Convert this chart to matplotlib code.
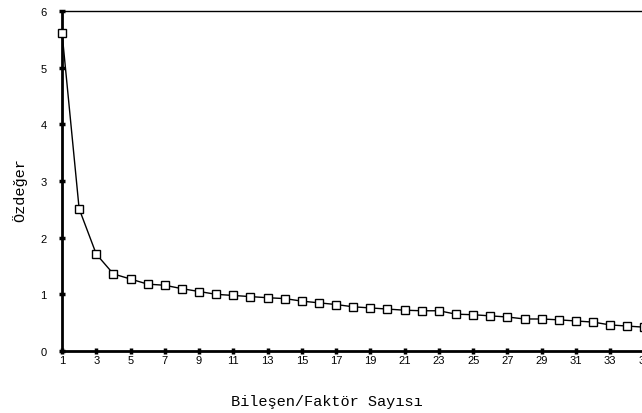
import matplotlib
matplotlib.use("Agg")
import matplotlib.pyplot as plt

components = list(range(1, 36))
eigenvalues = [5.62, 2.51, 1.71, 1.36, 1.27, 1.18, 1.16, 1.10, 1.05, 1.00,
               0.98, 0.96, 0.94, 0.925, 0.88, 0.85, 0.82, 0.78, 0.76, 0.74,
               0.72, 0.71, 0.71, 0.65, 0.64, 0.62, 0.60, 0.565, 0.565, 0.55,
               0.53, 0.51, 0.46, 0.44, 0.42]
xticks = list(range(1, 36, 2))
yticks = [0, 1, 2, 3, 4, 5, 6]
xlabel = "Bileşen/Faktör Sayısı"
ylabel = "Özdeğer"

W, H = 642, 414
fig = plt.figure(figsize=(W / 100, H / 100), dpi=100)
left_px, right_px, top_px, bot_px = 62, 661.6, 12, 352
ax = fig.add_axes([left_px / W, (H - bot_px) / H, (right_px - left_px) / W, (bot_px - top_px) / H])

ax.plot(components, eigenvalues, color="black", linewidth=1.0, marker="s",
        markersize=5.6, markerfacecolor="white", markeredgecolor="black",
        markeredgewidth=1.0, clip_on=False, zorder=3)

ax.set_xlim(1, 36)
ax.set_ylim(0, 6)
ax.set_xticks(xticks)
ax.set_yticks(yticks)
ax.set_xticklabels([str(t) for t in xticks], fontfamily="Liberation Sans", fontsize=8)
ax.set_yticklabels([str(t) for t in yticks], fontfamily="Liberation Sans", fontsize=8)
ax.tick_params(axis="both", direction="inout", length=4, width=2.5, color="black")
ax.tick_params(axis="x", pad=1)
ax.tick_params(axis="y", pad=9)

for s in ["left", "bottom"]:
    ax.spines[s].set_linewidth(2)
ax.spines["top"].set_linewidth(1)
ax.spines["right"].set_linewidth(1)

fig.text(327 / W, 1 - 402 / H, xlabel, family="Liberation Mono", fontsize=11,
         ha="center", va="center")
fig.text(20 / W, 1 - 190 / H, ylabel, family="Liberation Mono", fontsize=11,
         ha="center", va="center", rotation=90)

fig.savefig("out.png", dpi=100)
